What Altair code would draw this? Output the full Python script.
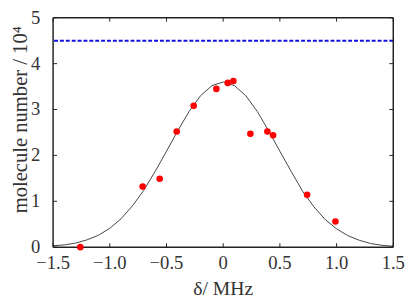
import altair as alt
import pandas as pd

# measured points (delta in MHz, molecule number / 1e4)
pt_x = [-1.26, -0.71, -0.56, -0.41, -0.26, -0.06, 0.04, 0.09, 0.24, 0.39, 0.44, 0.74, 0.99]
pt_y = [0.00, 1.32, 1.49, 2.52, 3.08, 3.45, 3.58, 3.62, 2.47, 2.52, 2.44, 1.14, 0.56]

# fitted curve
curve_x = [-1.5, -1.4, -1.3, -1.2, -1.1, -1.0, -0.9, -0.8, -0.7, -0.6, -0.5, -0.4, -0.3, -0.2, -0.1,
           0.0, 0.1, 0.2, 0.3, 0.4, 0.5, 0.6, 0.7, 0.8, 0.9, 1.0, 1.1, 1.2, 1.3, 1.4, 1.5]
curve_y = [0.03, 0.05, 0.09, 0.16, 0.26, 0.41, 0.62, 0.90, 1.24, 1.65, 2.09, 2.54, 2.96, 3.30, 3.52,
           3.60, 3.52, 3.30, 2.96, 2.54, 2.09, 1.65, 1.22, 0.88, 0.60, 0.40, 0.25, 0.15, 0.08, 0.04, 0.02]

ref_level = [4.5]
x_ticks = [-1.5, -1.0, -0.5, 0.0, 0.5, 1.0, 1.5]
x_labels = ["\u22121.5", "\u22121.0", "\u22120.5", "0", "0.5", "1.0", "1.5"]
y_ticks = [0, 1, 2, 3, 4, 5]
y_labels = ["0", "1", "2", "3", "4", "5"]
x_title = "δ/ MHz"
y_title = "molecule number / 10⁴"

W, H = 347, 234
TICK_PX = 4
FONT = "Liberation Serif"
INK = "#222222"
TXT = "#333333"

xmin, xmax = x_ticks[0], x_ticks[-1]
ymin, ymax = y_ticks[0], y_ticks[-1]
xs = alt.Scale(domain=[xmin, xmax], nice=False, zero=False)
ys = alt.Scale(domain=[ymin, ymax], nice=False)
px_x = (xmax - xmin) / W   # data units per pixel
px_y = (ymax - ymin) / H

pts = pd.DataFrame({"x": pt_x, "y": pt_y})
cur = pd.DataFrame({"x": curve_x, "y": curve_y})
ref = pd.DataFrame({"y": ref_level})

# plot frame along the axis domains
frame_df = pd.DataFrame({
    "x":  [xmin, xmin, xmin, xmax],
    "x2": [xmax, xmax, xmin, xmax],
    "y":  [ymin, ymax, ymin, ymin],
    "y2": [ymin, ymax, ymax, ymax],
})
# inward ticks on all four sides
rows = []
for v in x_ticks:
    rows.append((v, v, ymin, ymin + TICK_PX * px_y))
    rows.append((v, v, ymax, ymax - TICK_PX * px_y))
for v in y_ticks:
    rows.append((xmin, xmin + TICK_PX * px_x, v, v))
    rows.append((xmax, xmax - TICK_PX * px_x, v, v))
ticks_df = pd.DataFrame(rows, columns=["x", "x2", "y", "y2"])

xlab_df = pd.DataFrame({"x": x_ticks, "y": [ymin] * len(x_ticks), "t": x_labels})
ylab_df = pd.DataFrame({"x": [xmin] * len(y_ticks), "y": y_ticks, "t": y_labels})
xtit_df = pd.DataFrame({"x": [(xmin + xmax) / 2], "y": [ymin], "t": [x_title]})
ytit_df = pd.DataFrame({"x": [xmin - 33 * px_x], "y": [(ymin + ymax) / 2 + 13 * px_y], "t": [y_title]})

X = lambda: alt.X("x:Q", scale=xs, axis=None)
Y = lambda: alt.Y("y:Q", scale=ys, axis=None)

curve = alt.Chart(cur).mark_line(color="#444", strokeWidth=1).encode(x=X(), y=Y())

frame = alt.Chart(frame_df).mark_rule(color=INK, strokeWidth=1.5).encode(
    x=X(), x2="x2:Q", y=Y(), y2="y2:Q")

ticks = alt.Chart(ticks_df).mark_rule(color=INK, strokeWidth=1).encode(
    x=X(), x2="x2:Q", y=Y(), y2="y2:Q")

refline = alt.Chart(ref).mark_rule(color="#1010e0", strokeWidth=2, strokeDash=[4, 2]).encode(y=Y())

points = alt.Chart(pts).mark_circle(color="#ff0000", opacity=1, size=45).encode(x=X(), y=Y())

xlab = alt.Chart(xlab_df).mark_text(font=FONT, fontSize=19, color=TXT, align="center",
                                    baseline="middle", dy=16).encode(x=X(), y=Y(), text="t:N")
ylab = alt.Chart(ylab_df).mark_text(font=FONT, fontSize=19, color=TXT, align="right",
                                    baseline="middle", dx=-13).encode(x=X(), y=Y(), text="t:N")
xtit = alt.Chart(xtit_df).mark_text(font=FONT, fontSize=20, color=TXT, align="center",
                                    baseline="middle", dy=43).encode(x=X(), y=Y(), text="t:N")
ytit = alt.Chart(ytit_df).mark_text(font=FONT, fontSize=21, color=TXT, align="center",
                                    baseline="middle", angle=270).encode(x=X(), y=Y(), text="t:N")

chart = alt.layer(curve, refline, ticks, frame, points, xlab, ylab, xtit, ytit).properties(
    width=W, height=H,
    background="white",
    autosize=alt.AutoSizeParams(type="none"),
    padding={"left": 46, "top": 7, "right": 14, "bottom": 54},
).configure_view(stroke=None)

chart.save("out.html", embed_options={"renderer": "svg", "actions": False})
